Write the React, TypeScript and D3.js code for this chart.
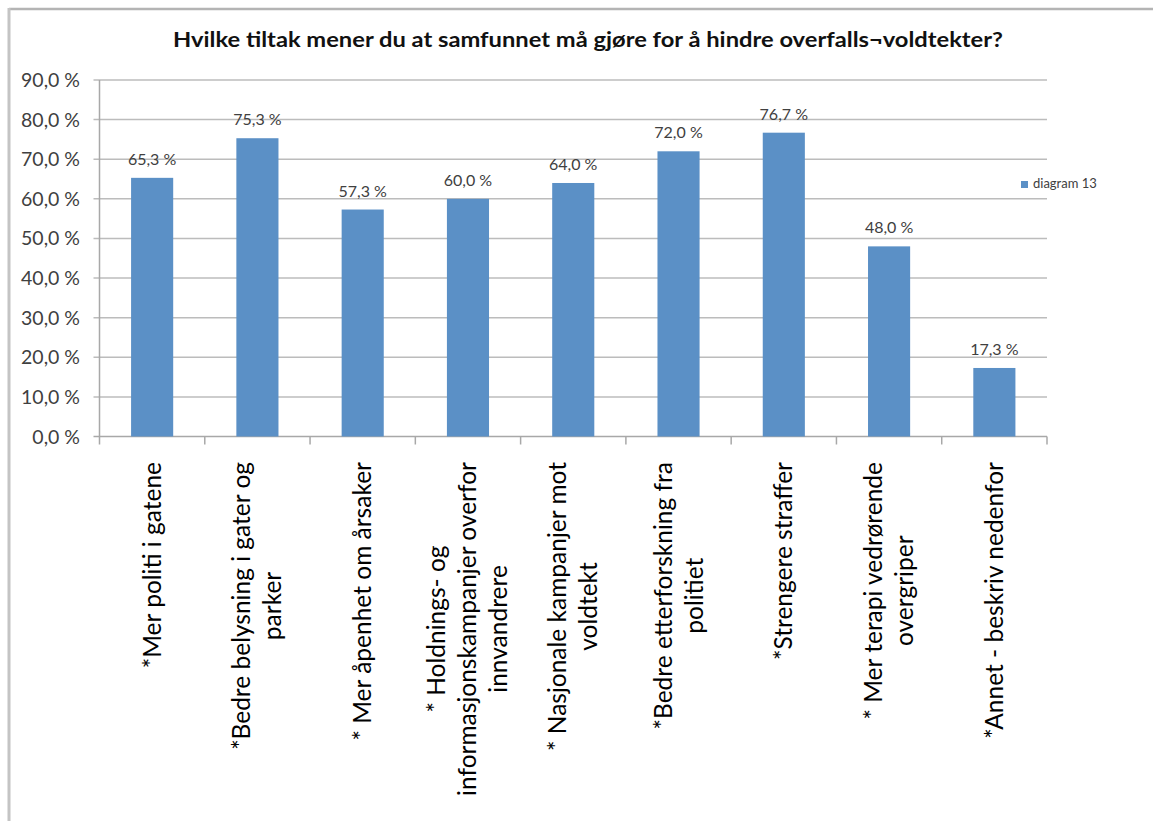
import React, { useEffect, useRef } from "react";
import * as d3 from "d3";

const title = "Hvilke tiltak mener du at samfunnet må gjøre for å hindre overfalls¬voldtekter?";
const categories: string[][] = [
  ["*Mer politi i gatene"],
  ["*Bedre belysning i gater og", "parker"],
  ["* Mer åpenhet om årsaker"],
  ["* Holdnings- og", "informasjonskampanjer overfor", "innvandrere"],
  ["* Nasjonale kampanjer mot", "voldtekt"],
  ["*Bedre etterforskning fra", "politiet"],
  ["*Strengere straffer"],
  ["* Mer terapi vedrørende", "overgriper"],
  ["*Annet - beskriv nedenfor"],
];
const values = [65.3, 75.3, 57.3, 60.0, 64.0, 72.0, 76.7, 48.0, 17.3];
const yTicks = [0, 10, 20, 30, 40, 50, 60, 70, 80, 90];
const seriesName = "diagram 13";

const fmt = (v: number) => v.toFixed(1).replace(".", ",") + " %";

export default function App() {
  const ref = useRef<SVGSVGElement>(null);

  useEffect(() => {
    const svg = d3.select(ref.current);
    svg.selectAll("*").remove();
    const font = "Lato, 'Open Sans', sans-serif";

    const left = 99.5, right = 1047, top = 80, bottom = 436.5;
    const x = d3.scaleBand<number>().domain(d3.range(categories.length)).range([left, right]).padding(0);
    const y = d3.scaleLinear().domain([0, 90]).range([bottom, top]);
    const bw = x.bandwidth();
    const barW = bw * 0.4;

    // frame
    svg.append("line").attr("x1", 9).attr("x2", 1153).attr("y1", 9).attr("y2", 9)
      .attr("stroke", "#b4b4b4").attr("stroke-width", 2.5);
    svg.append("line").attr("x1", 9).attr("x2", 9).attr("y1", 8).attr("y2", 821)
      .attr("stroke", "#c4c4c4").attr("stroke-width", 3);

    // title
    svg.append("text").attr("x", 588).attr("y", 47).attr("text-anchor", "middle")
      .attr("font-family", font).attr("font-weight", "bold").attr("font-size", 21)
      .attr("fill", "#111").attr("textLength", 830).attr("lengthAdjust", "spacingAndGlyphs")
      .text(title);

    // gridlines
    svg.append("g").selectAll("line").data(yTicks.filter(t => t > 0)).join("line")
      .attr("x1", left - 6).attr("x2", right).attr("y1", d => y(d)).attr("y2", d => y(d))
      .attr("stroke", "#bcbcbc").attr("stroke-width", 1.5);

    // y tick at 0 and axis
    svg.append("line").attr("x1", left - 6).attr("x2", right).attr("y1", y(0)).attr("y2", y(0))
      .attr("stroke", "#a8a8a8").attr("stroke-width", 1.5);
    svg.append("line").attr("x1", left).attr("x2", left).attr("y1", top).attr("y2", y(0) + 8)
      .attr("stroke", "#a8a8a8").attr("stroke-width", 1.5);
    // category ticks
    svg.append("g").selectAll("line").data(d3.range(1, categories.length + 1)).join("line")
      .attr("x1", d => left + d * bw).attr("x2", d => left + d * bw)
      .attr("y1", y(0)).attr("y2", y(0) + 8)
      .attr("stroke", "#a8a8a8").attr("stroke-width", 1.5);

    // y labels
    svg.append("g").selectAll("text").data(yTicks).join("text")
      .attr("x", 80).attr("y", d => y(d) + 7).attr("text-anchor", "end")
      .attr("font-family", font).attr("font-size", 19.5).attr("fill", "#404040")
      .text(d => fmt(d));

    // bars
    svg.append("g").selectAll("rect").data(values).join("rect")
      .attr("x", (d, i) => (x(i) as number) + bw / 2 - barW / 2)
      .attr("width", barW)
      .attr("y", d => y(d)).attr("height", d => y(0) - y(d))
      .attr("fill", "#5b90c6");

    // value labels
    svg.append("g").selectAll("text").data(values).join("text")
      .attr("x", (d, i) => (x(i) as number) + bw / 2)
      .attr("y", d => y(d) - 13)
      .attr("text-anchor", "middle")
      .attr("font-family", font).attr("font-size", 16).attr("fill", "#404040")
      .text(d => fmt(d));

    // x labels (rotated)
    const lineGap = 31;
    categories.forEach((lines, i) => {
      const cx = (x(i) as number) + bw / 2;
      const g = svg.append("g");
      const texts = lines.map((ln, k) => {
        const bx = cx + 8.5 + (k - (lines.length - 1) / 2) * lineGap;
        return g.append("text")
          .attr("font-family", font).attr("font-size", 24.5).attr("fill", "#000")
          .attr("text-anchor", "middle")
          .text(ln)
          .attr("data-bx", bx);
      });
      const lens = texts.map(t => (t.node() as SVGTextElement).getComputedTextLength());
      const maxLen = d3.max(lens) || 0;
      const midY = 462 + maxLen / 2;
      texts.forEach(t => {
        const bx = +t.attr("data-bx");
        t.attr("transform", `translate(${bx},${midY}) rotate(-90)`);
      });
    });

    // legend
    svg.append("rect").attr("x", 1021).attr("y", 181).attr("width", 7).attr("height", 7).attr("fill", "#5b90c6");
    svg.append("text").attr("x", 1033).attr("y", 188).attr("font-family", font)
      .attr("font-size", 13).attr("fill", "#404040").text(seriesName);
  }, []);

  return (
    <svg ref={ref} width={1153} height={821}
      style={{ position: "absolute", left: 0, top: 0, background: "#fff" }} />
  );
}
